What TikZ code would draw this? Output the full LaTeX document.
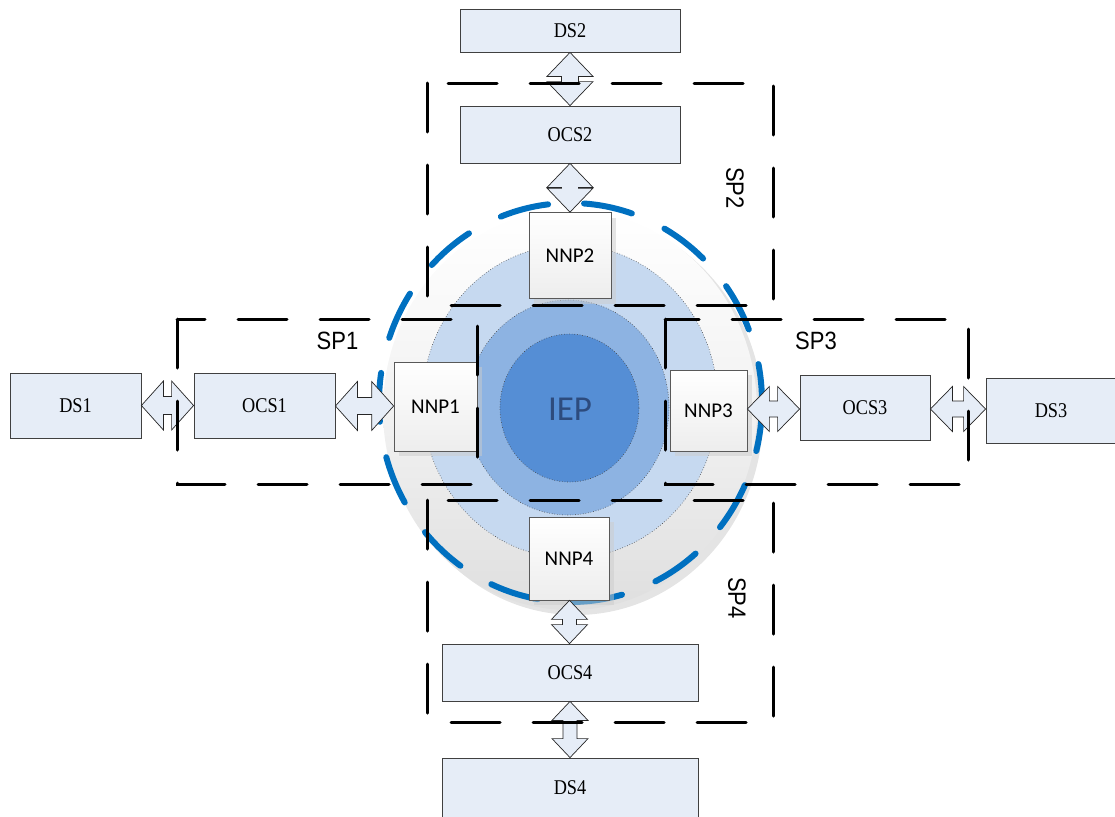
\documentclass[tikz,border=0pt]{standalone}
\usepackage{fontspec}
\setmainfont{Liberation Serif}
\newfontfamily\dsfont[FakeStretch=0.87]{Liberation Serif}
\newfontfamily\nnpfont{Carlito}
\newfontfamily\spfont[FakeStretch=0.88]{Liberation Sans}
\usetikzlibrary{calc,shadows}
\definecolor{boxfill}{RGB}{230,237,247}
\definecolor{boxline}{RGB}{64,64,64}
\definecolor{sblue}{RGB}{0,112,192}
\definecolor{ring1}{RGB}{198,217,240}
\definecolor{ring2}{RGB}{141,179,226}
\definecolor{ring3}{RGB}{85,142,213}
\definecolor{ieptext}{RGB}{45,75,125}
\definecolor{discfill}{RGB}{242,242,242}
\definecolor{discshadow}{RGB}{228,228,228}

\newcommand\hdblarrow[5]{%
  \draw[darr] let \p1=(#1.east), \p2=(#2.west), \p3=($(#1.east)!0.5!(#2.west)$) in
    (\x1,\y3) -- (\x1+#5pt,\y3+#3pt) -- (\x1+#5pt,\y3+#4pt) -- (\x2-#5pt,\y3+#4pt)
    -- (\x2-#5pt,\y3+#3pt) -- (\x2,\y3) -- (\x2-#5pt,\y3-#3pt) -- (\x2-#5pt,\y3-#4pt)
    -- (\x1+#5pt,\y3-#4pt) -- (\x1+#5pt,\y3-#3pt) -- cycle;}
\newcommand\vdblarrow[5]{%
  \draw[darr] let \p1=(#1.south), \p2=(#2.north), \p3=($(#1.south)!0.5!(#2.north)$) in
    (\x3,\y1) -- (\x3+#3pt,\y1-#5pt) -- (\x3+#4pt,\y1-#5pt) -- (\x3+#4pt,\y2+#5pt)
    -- (\x3+#3pt,\y2+#5pt) -- (\x3,\y2) -- (\x3-#3pt,\y2+#5pt) -- (\x3-#4pt,\y2+#5pt)
    -- (\x3-#4pt,\y1-#5pt) -- (\x3-#3pt,\y1-#5pt) -- cycle;}

\begin{document}
\begin{tikzpicture}[x=1pt,y=-1pt,
  dsbox/.style={draw=boxline, fill=boxfill, line width=0.8pt, inner sep=0pt,
    font=\dsfont\fontsize{21}{24}\selectfont},
  nnpbox/.style={draw=gray!70!black, top color=white, bottom color=gray!14,
    line width=0.7pt, inner sep=0pt, font=\nnpfont\fontsize{21}{25}\selectfont,
    drop shadow={shadow xshift=5pt, shadow yshift=-5pt, fill=gray!40, opacity=0.5}},
  darr/.style={draw=black!85, fill=boxfill, line width=0.7pt, line join=miter},
  spline/.style={draw=black, line width=3pt, dash pattern=on 49pt off 33pt, line cap=round},
  bluedash/.style={draw=sblue, line width=6pt, dash pattern=on 49pt off 36pt, line cap=round},
  ringline/.style={draw=black!75, line width=0.6pt, dotted},
  splabel/.style={font=\spfont\fontsize{25}{29}\selectfont, inner sep=0pt}]
\useasboundingbox (0,0) rectangle (1115,816);

% grey disc with shadow
\fill[discshadow] (576,415) ellipse [x radius=187, y radius=200];
\shade[top color=white, bottom color=discfill!92!black, middle color=discfill]
  (570,410) ellipse [x radius=187, y radius=200];

% concentric blue rings
\fill[ring1] (570,401.5) ellipse [x radius=147.5, y radius=156.5];
\draw[ringline] (570,401.5) ellipse [x radius=147.5, y radius=156.5];
\fill[ring2] (568,407.5) ellipse [x radius=101, y radius=107.5];
\draw[ringline] (568,407.5) ellipse [x radius=101, y radius=107.5];
\fill[ring3] (569.5,408) ellipse [x radius=69.5, y radius=74];
\draw[ringline] (569.5,408) ellipse [x radius=69.5, y radius=74];

% blue dashed ellipse
\draw[bluedash] (570.5,402.5) ellipse [x radius=191.5, y radius=199.5];

% centre label
\node[text=ieptext, font=\nnpfont\fontsize{35}{40}\selectfont] (iep) at (570,409) {IEP};

% boxes
\node[dsbox, minimum width=220pt, minimum height=43pt] (ds2) at (570,30.5) {DS2};
\node[dsbox, minimum width=220pt, minimum height=57pt] (ocs2) at (570,134.5) {OCS2};
\node[dsbox, minimum width=131pt, minimum height=65pt] (ds1) at (75.5,405.5) {DS1};
\node[dsbox, minimum width=141pt, minimum height=65pt] (ocs1) at (264.5,405.5) {OCS1};
\node[dsbox, minimum width=130pt, minimum height=65pt] (ocs3) at (865,407.5) {OCS3};
\node[dsbox, minimum width=130pt, minimum height=65pt] (ds3) at (1051,410.5) {DS3};
\node[dsbox, minimum width=256pt, minimum height=57pt] (ocs4) at (570,672.5) {OCS4};
\node[dsbox, minimum width=256pt, minimum height=60pt] (ds4) at (570,788) {DS4};

\node[nnpbox, minimum width=82pt, minimum height=86pt] (nnp2) at (570,255.5) {NNP2};
\node[nnpbox, minimum width=83pt, minimum height=89pt] (nnp1) at (435.5,406.5) {NNP1};
\node[nnpbox, minimum width=77pt, minimum height=81pt] (nnp3) at (708.5,410.5) {NNP3};
\node[nnpbox, minimum width=80pt, minimum height=83pt] (nnp4) at (569,558.5) {NNP4};

% double arrows
\vdblarrow{ds2}{ocs2}{23}{8.5}{24}
\vdblarrow{ocs2}{nnp2}{23}{8.5}{24}
\vdblarrow{nnp4}{ocs4}{18}{7}{19}
\vdblarrow{ocs4}{ds4}{18}{7}{19}
\hdblarrow{ds1}{ocs1}{24.5}{9}{22}
\hdblarrow{ocs1}{nnp1}{24.5}{8.5}{22}
\hdblarrow{nnp3}{ocs3}{22.5}{8}{22}
\hdblarrow{ocs3}{ds3}{22.5}{8}{22}

% SP dashed regions
\draw[spline] (427,83) rectangle (773,305);
\draw[spline] (177,319) rectangle (477,484);
\draw[spline] (665,319) rectangle (968,484);
\draw[spline] (427,500) rectangle (773,722);

% SP labels
\node[splabel] (sp1) at (337.5,340.5) {SP1};
\node[splabel] (sp3) at (816,340.5) {SP3};
\node[splabel, rotate=-90] (sp2) at (735,188) {SP2};
\node[splabel, rotate=-90] (sp4) at (737,598) {SP4};
\end{tikzpicture}
\end{document}
